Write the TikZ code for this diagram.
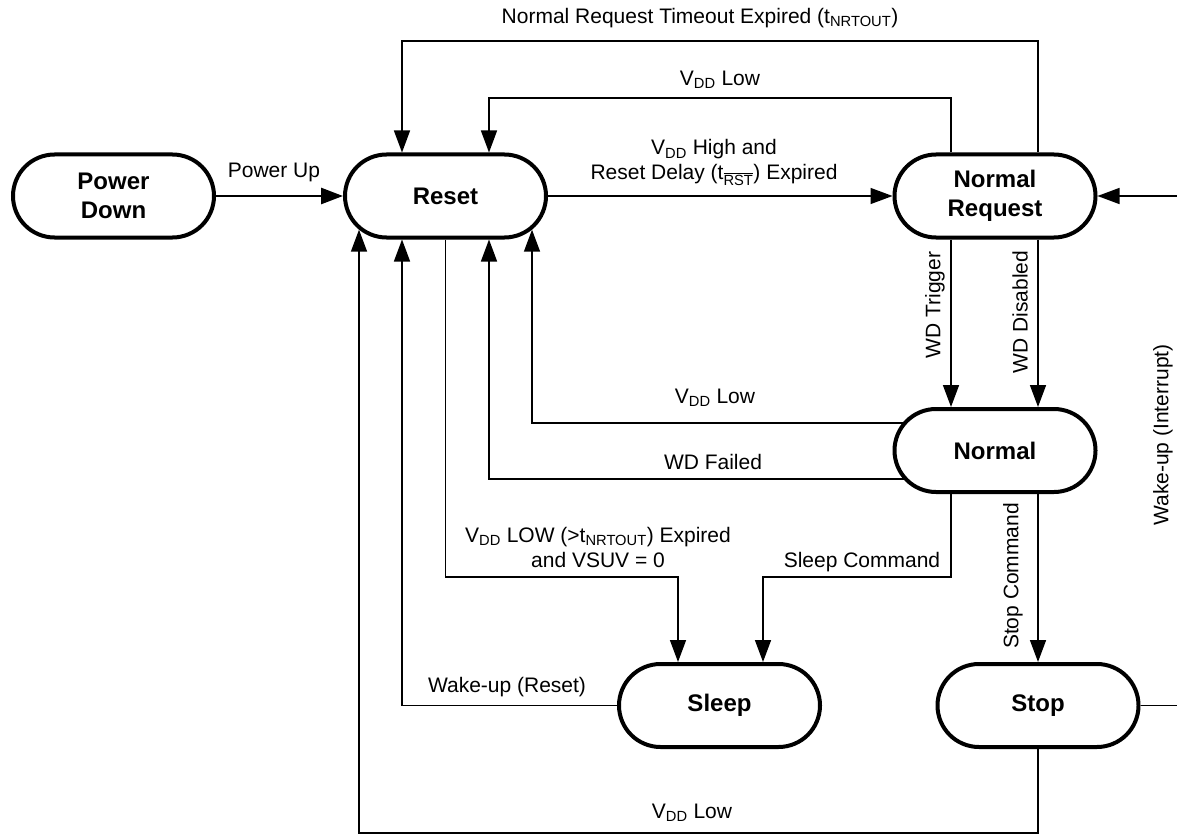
\documentclass[tikz,border=0pt]{standalone}
\usepackage{fontspec}
\setmainfont{Liberation Sans}
\usetikzlibrary{arrows.meta,backgrounds,calc}
\newcommand{\vdd}{V\textsubscript{DD}}
\begin{document}
\begin{tikzpicture}[x=1pt,y=-1pt,
  state/.style={draw, line width=4pt, rounded corners=41.5pt, minimum width=201pt, minimum height=83pt, inner sep=0pt, align=center, font=\fontsize{24}{29}\selectfont\bfseries, fill=white},
  lbl/.style={font=\fontsize{21}{25}\selectfont, inner sep=0pt, align=center},
  arr/.style={-{Triangle[length=22pt,width=16pt]}, line width=1.5pt},
  conn/.style={line width=1.5pt}]
\useasboundingbox (0,0) rectangle (1177,837);
% states
\node[state] (PD) at (113.5,196) {Power\\Down};
\node[state] (Reset) at (445.5,196) {Reset};
\node[state] (NR) at (995,196) {Normal\\Request};
\node[state] (Normal) at (995,450.5) {Normal};
\node[state] (Sleep) at (719.5,705.5) {Sleep};
\node[state] (Stop) at (1038,705.5) {Stop};
% helper coordinates
\coordinate (top1) at (0,41);
\coordinate (top2) at (0,98);
\coordinate (mid1) at (0,577);
\coordinate (bot1) at (0,833);
\coordinate (nrA) at ([xshift=-44pt]NR.north);
\coordinate (nrB) at ([xshift=43pt]NR.north);
\coordinate (nrsA) at ([xshift=-44pt]NR.south);
\coordinate (nrsB) at ([xshift=43pt]NR.south);
\coordinate (nnA) at ([xshift=-44pt]Normal.north);
\coordinate (nnB) at ([xshift=43pt]Normal.north);
\coordinate (nsA) at ([xshift=-44pt]Normal.south);
\coordinate (nsB) at ([xshift=43pt]Normal.south);
\coordinate (nL1) at ($(Normal.center)+(0,-27.5)$);
\coordinate (nL2) at ($(Normal.center)+(0,28.5)$);
\coordinate (rtA) at ([xshift=-43.5pt]Reset.north);
\coordinate (rtB) at ([xshift=43.5pt]Reset.north);
\coordinate (rbA) at ($(Reset.center)+(-86.5,33.7)$);
\coordinate (rbB) at ([xshift=-43.5pt]Reset.south);
\coordinate (rbC) at ([xshift=43.5pt]Reset.south);
\coordinate (rbD) at ($(Reset.center)+(86.5,33.7)$);
\coordinate (stA) at ([xshift=-41.5pt]Sleep.north);
\coordinate (stB) at ([xshift=43.5pt]Sleep.north);
\coordinate (rgt) at ($(Stop.east)+(45,0)$);
% connectors
\begin{scope}[on background layer]
\draw[arr, line width=2.7pt] (PD.east) -- (Reset.west);
\draw[arr] (Reset.east) -- (NR.west);
\draw[arr] (nrB) -- (nrB |- top1) -| (rtA);
\draw[arr] (nrA) -- (nrA |- top2) -| (rtB);
\draw[arr] (nrsA) -- (nnA);
\draw[arr] (nrsB) -- (nnB);
\draw[arr] (nL1) -| (rbD);
\draw[arr] (nL2) -| (rbC);
\draw[arr] (Reset.south) -- (Reset.south |- mid1) -| (stA);
\draw[arr] (nsA) -- (nsA |- mid1) -| (stB);
\draw[arr] (nsB) -- (Stop.north);
\draw[arr] (Sleep.west) -| (rbB);
\draw[arr] (Stop.south) -- (Stop.south |- bot1) -| (rbA);
\draw[arr] (Stop.east) -- (rgt) |- (NR.east);
\end{scope}
% labels
\node[lbl] (lPU) at (274,172) {Power Up};
\node[lbl] (lHigh) at (714,162.5) {\vdd{} High and\\Reset Delay (t\textsubscript{$\overline{\mbox{RST}}$}) Expired};
\node[lbl] (lTO) at (700,18) {Normal Request Timeout Expired (t\textsubscript{NRTOUT})};
\node[lbl] (lLow1) at (720,80) {\vdd{} Low};
\node[lbl, rotate=90] (lTrig) at (935,305) {WD Trigger};
\node[lbl, rotate=90] (lDis) at (1020,312) {WD Disabled};
\node[lbl] (lLow2) at (715,398) {\vdd{} Low};
\node[lbl] (lFail) at (713,462) {WD Failed};
\node[lbl] (lSlp) at (598,547.5) {\vdd{} LOW (>t\textsubscript{NRTOUT}) Expired\\and VSUV = 0};
\node[lbl] (lSC) at (862,562) {Sleep Command};
\node[lbl, rotate=90] (lStC) at (1013,576) {Stop Command};
\node[lbl, rotate=90] (lWI) at (1163,435) {Wake-up (Interrupt)};
\node[lbl] (lWR) at (507,687) {Wake-up (Reset)};
\node[lbl] (lLow3) at (692,813) {\vdd{} Low};
\end{tikzpicture}
\end{document}
